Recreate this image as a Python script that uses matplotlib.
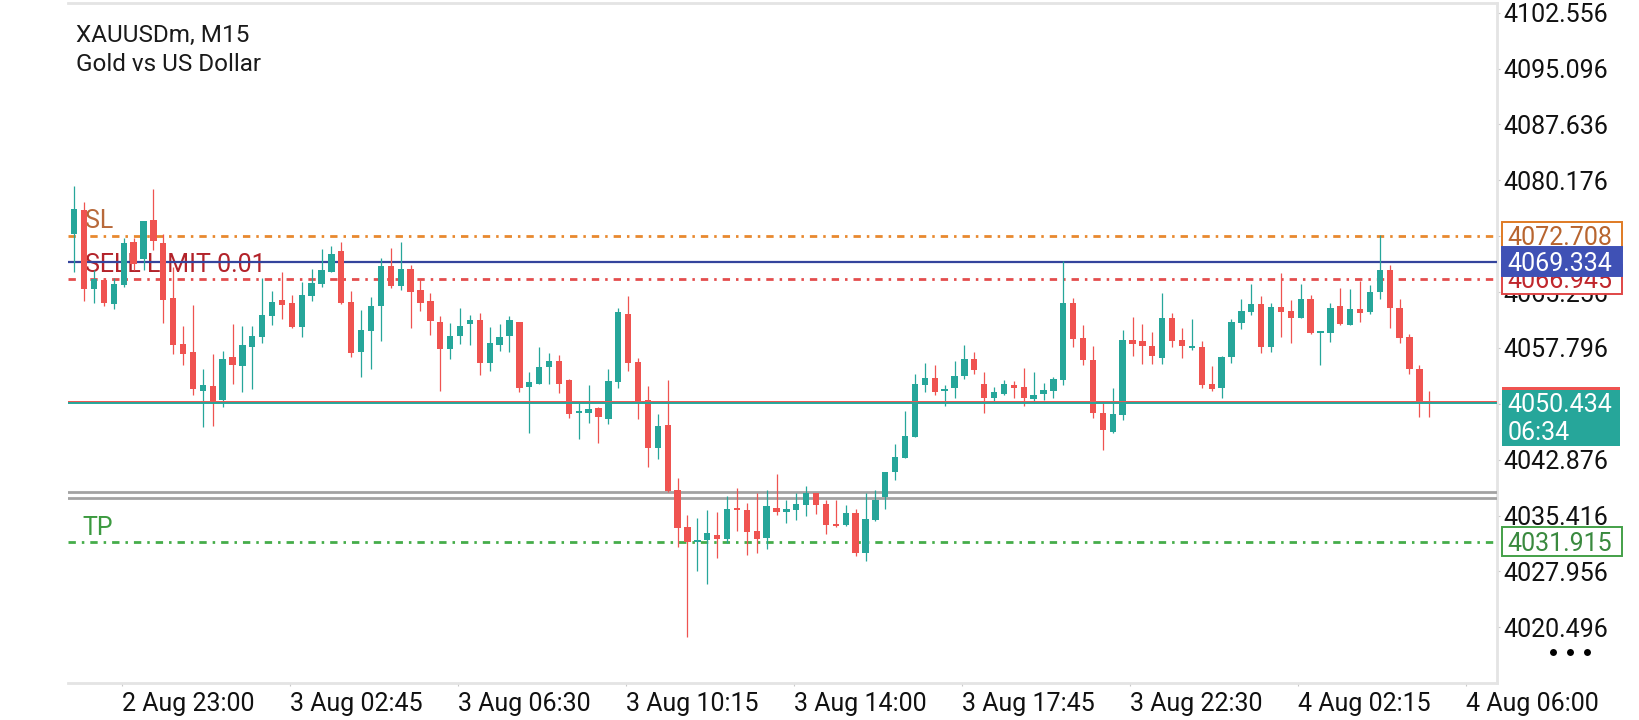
import matplotlib
matplotlib.use("Agg")
import matplotlib.pyplot as plt
from matplotlib.patches import Rectangle
from matplotlib.lines import Line2D
from matplotlib.transforms import blended_transform_factory

# ---------------- data ----------------
symbol_title = "XAUUSDm, M15"
symbol_desc = "Gold vs US Dollar"

opens = [4072.97, 4076.21, 4065.70, 4066.86, 4063.66, 4066.20, 4071.98, 4069.71, 4074.88, 4071.85,
         4064.50, 4058.36, 4057.25, 4052.05, 4052.71, 4050.84, 4056.58, 4055.42, 4057.96, 4059.29,
         4062.10, 4064.19, 4063.83, 4060.63, 4064.73, 4066.33, 4067.97, 4070.74, 4063.93, 4057.29,
         4060.10, 4063.43, 4068.73, 4066.10, 4068.33, 4065.53, 4064.06, 4061.30, 4057.69, 4059.39,
         4061.03, 4061.52, 4055.82, 4058.19, 4059.39, 4061.26, 4052.62, 4053.02, 4055.29, 4056.05,
         4053.51, 4049.10, 4049.15, 4049.81, 4048.34, 4053.29, 4062.32, 4055.91, 4050.84, 4044.48,
         4047.50, 4038.82, 4033.88, 4031.84, 4032.15, 4032.82, 4032.28, 4036.42, 4036.15, 4033.35,
         4032.45, 4036.38, 4035.93, 4036.15, 4036.82, 4038.38, 4036.96, 4034.33, 4034.15, 4035.71,
         4030.46, 4034.82, 4037.93, 4041.27, 4043.14, 4045.94, 4052.88, 4053.78, 4052.00, 4052.45,
         4054.09, 4056.32, 4052.98, 4051.15, 4051.64, 4052.85, 4052.62, 4051.01, 4051.69, 4052.08,
         4053.51, 4063.83, 4059.12, 4056.18, 4049.15, 4046.57, 4048.88, 4058.85, 4058.72, 4058.05,
         4056.49, 4061.79, 4058.85, 4057.79, 4057.96, 4052.98, 4052.48, 4056.63, 4061.17, 4062.59,
         4063.66, 4057.96, 4063.26, 4062.72, 4061.83, 4064.33, 4059.75, 4059.83, 4063.35, 4060.86,
         4062.99, 4062.63, 4065.30, 4068.20, 4063.08, 4059.21, 4054.94, 4050.71]
highs = [4079.46, 4077.24, 4068.20, 4067.17, 4067.17, 4072.43, 4072.43, 4074.80, 4079.01, 4072.97,
         4068.64, 4060.72, 4063.53, 4054.94, 4056.98, 4057.39, 4060.99, 4060.72, 4060.76, 4067.09,
         4065.44, 4067.97, 4064.86, 4066.60, 4068.29, 4071.00, 4071.40, 4071.90, 4065.40, 4062.86,
         4064.55, 4069.76, 4071.10, 4071.90, 4068.87, 4066.96, 4065.09, 4062.06, 4061.08, 4063.08,
         4062.15, 4062.42, 4060.55, 4060.99, 4062.06, 4061.30, 4054.54, 4057.92, 4057.16, 4056.85,
         4053.65, 4050.62, 4052.85, 4049.95, 4054.98, 4063.08, 4064.73, 4056.41, 4052.71, 4048.97,
         4053.51, 4040.39, 4035.49, 4035.05, 4036.15, 4035.89, 4038.02, 4039.09, 4037.13, 4038.38,
         4038.82, 4040.96, 4037.49, 4038.38, 4039.36, 4038.45, 4037.49, 4037.49, 4036.82, 4036.25,
         4038.38, 4038.82, 4041.19, 4044.97, 4049.41, 4054.31, 4055.82, 4055.52, 4052.85, 4056.09,
         4058.19, 4057.21, 4054.54, 4052.62, 4053.51, 4053.42, 4055.15, 4054.62, 4053.07, 4053.87,
         4069.44, 4064.42, 4060.86, 4058.05, 4050.40, 4052.49, 4060.19, 4061.88, 4060.99, 4059.96,
         4065.17, 4062.50, 4060.41, 4061.62, 4058.68, 4055.38, 4056.76, 4061.66, 4064.33, 4066.33,
         4064.73, 4063.75, 4067.84, 4064.19, 4066.33, 4064.86, 4060.10, 4063.75, 4065.76, 4065.63,
         4066.77, 4066.20, 4072.87, 4068.87, 4064.29, 4059.65, 4055.52, 4052.04]
lows = [4067.97, 4064.10, 4063.83, 4063.43, 4063.03, 4065.97, 4068.20, 4068.20, 4070.87, 4061.16,
        4056.94, 4055.49, 4051.55, 4047.28, 4047.41, 4049.95, 4052.98, 4051.91, 4052.35, 4058.41,
        4060.82, 4061.62, 4060.50, 4059.21, 4064.10, 4065.97, 4067.90, 4063.70, 4056.54, 4053.95,
        4055.02, 4058.76, 4065.76, 4065.53, 4060.50, 4062.76, 4059.52, 4052.08, 4056.36, 4058.32,
        4058.19, 4054.14, 4054.75, 4057.42, 4057.21, 4051.95, 4046.48, 4053.00, 4052.94, 4051.74,
        4048.48, 4045.68, 4047.81, 4045.14, 4047.68, 4052.48, 4054.75, 4048.34, 4041.94, 4042.96,
        4038.50, 4031.25, 4019.20, 4028.05, 4026.27, 4029.79, 4031.71, 4033.39, 4030.15, 4030.46,
        4030.91, 4035.45, 4034.46, 4034.82, 4035.40, 4035.62, 4032.95, 4033.93, 4034.02, 4030.06,
        4029.39, 4034.73, 4036.33, 4040.16, 4043.10, 4045.90, 4051.95, 4051.51, 4050.04, 4051.11,
        4053.69, 4054.31, 4049.15, 4050.71, 4051.51, 4051.15, 4050.08, 4050.40, 4050.84, 4051.15,
        4052.85, 4057.92, 4055.52, 4048.48, 4044.16, 4046.50, 4048.17, 4056.72, 4055.65, 4055.65,
        4055.65, 4057.92, 4056.49, 4057.52, 4052.48, 4052.08, 4051.07, 4055.82, 4060.33, 4062.19,
        4057.16, 4057.29, 4059.30, 4058.49, 4061.80, 4059.61, 4055.52, 4058.63, 4060.86, 4060.80,
        4061.30, 4062.28, 4064.33, 4060.41, 4058.41, 4054.27, 4048.53, 4048.53]
closes = [4076.34, 4065.70, 4066.96, 4063.83, 4066.33, 4071.80, 4068.99, 4074.74, 4072.03, 4064.23,
          4058.23, 4056.98, 4052.35, 4052.85, 4050.57, 4056.32, 4055.52, 4058.19, 4059.39, 4062.19,
          4063.93, 4063.57, 4060.63, 4064.86, 4066.50, 4068.20, 4070.34, 4063.83, 4057.16, 4060.19,
          4063.39, 4068.73, 4066.10, 4068.33, 4065.30, 4063.83, 4061.43, 4057.69, 4059.39, 4060.72,
          4061.52, 4055.82, 4058.49, 4059.30, 4061.52, 4052.48, 4053.25, 4055.21, 4056.05, 4053.02,
          4049.01, 4049.40, 4049.64, 4048.53, 4053.38, 4062.59, 4055.82, 4050.62, 4044.48, 4047.41,
          4038.69, 4033.79, 4031.92, 4032.16, 4033.08, 4032.28, 4036.29, 4036.15, 4033.25, 4032.28,
          4036.69, 4035.93, 4036.25, 4036.96, 4038.38, 4036.82, 4034.15, 4034.06, 4035.71, 4030.46,
          4034.91, 4037.49, 4041.19, 4043.23, 4046.03, 4052.98, 4053.78, 4051.95, 4052.31, 4054.05,
          4056.32, 4054.85, 4051.15, 4051.91, 4052.98, 4052.49, 4051.15, 4051.51, 4052.18, 4053.65,
          4063.83, 4058.99, 4056.22, 4049.15, 4046.84, 4049.01, 4058.85, 4058.36, 4058.05, 4056.72,
          4061.79, 4058.76, 4058.05, 4057.92, 4052.88, 4052.31, 4056.63, 4061.26, 4062.77, 4063.66,
          4057.96, 4063.26, 4062.63, 4061.83, 4064.33, 4059.75, 4059.92, 4063.13, 4060.99, 4062.99,
          4062.50, 4065.26, 4068.20, 4063.17, 4059.17, 4055.02, 4050.48, 4050.434]

x_tick_labels = ["2 Aug 23:00", "3 Aug 02:45", "3 Aug 06:30", "3 Aug 10:15", "3 Aug 14:00",
                 "3 Aug 17:45", "3 Aug 22:30", "4 Aug 02:15", "4 Aug 06:00"]
y_tick_values = [4102.556, 4095.096, 4087.636, 4080.176, 4072.716, 4065.256,
                 4057.796, 4050.336, 4042.876, 4035.416, 4027.956, 4020.496]
# tick labels that sit fully under a price box in the reference (not visible)
hidden_ticks = [4072.716, 4050.336]

sl_price = 4072.708
sell_limit_price = 4069.334
sell_limit_text = "SELL LIMIT 0.01"
sell_limit_mark = 4066.945
tp_price = 4031.915
bid_price = 4050.434
ask_price = 4050.62
countdown = "06:34"
gray_levels = [4038.52, 4037.72]

# ---------------- style / layout ----------------
plt.rcParams['font.family'] = ['Roboto', 'DejaVu Sans']
plt.rcParams['lines.scale_dashes'] = False

W, H = 1640, 720
TEAL = '#26a69a'
RED = '#ef5350'
FS = 18

fig = plt.figure(figsize=(W / 100, H / 100), dpi=100)
ax_l, ax_r, ax_t, ax_b = 68, 1497, 3, 683
ax = fig.add_axes([ax_l / W, 1 - ax_b / H, (ax_r - ax_l) / W, (ax_b - ax_t) / H])
ax.set_xlim(-0.637, 143.85)
ax.set_ylim(4013.06, 4103.85)
PX = (4103.85 - 4013.06) / (ax_b - ax_t)   # price per pixel

# candles
n = len(opens)
idx = list(range(n))
cols = [TEAL if c >= o else RED for o, c in zip(opens, closes)]
ax.vlines(idx, lows, highs, colors=cols, linewidth=0.9, zorder=4)
bottoms = [min(o, c) for o, c in zip(opens, closes)]
heights = [max(abs(c - o), 0.28) for o, c in zip(opens, closes)]
ax.bar(idx, heights, bottom=bottoms, width=0.64, color=cols, linewidth=0, zorder=5)

# horizontal levels
dashdot = (0, (5.3, 4.3, 1.8, 4.3))
ax.axhline(sl_price, color='#e8892f', lw=2.0, ls=dashdot, zorder=3)
ax.axhline(sell_limit_price, color='#34449c', lw=1.6, zorder=3)
ax.axhline(sell_limit_mark, color='#e34d4d', lw=2.0, ls=dashdot, zorder=3)
ax.axhline(tp_price, color='#45ad4a', lw=2.0, ls=dashdot, zorder=3)
for g in gray_levels:
    ax.axhline(g, color='#a3a3a3', lw=2.0, zorder=3)
ax.axhline(ask_price, color=RED, lw=1.4, zorder=6)
ax.axhline(bid_price, color=TEAL, lw=1.4, zorder=6)

# labels on chart
bt = blended_transform_factory(ax.transAxes, ax.transData)
lab_x = (85 - ax_l) / (ax_r - ax_l)
ax.annotate("SL", xy=(lab_x, sl_price), xycoords=bt, xytext=(0, 8), textcoords='offset pixels',
            va='baseline', ha='left', fontsize=FS, color='#b8693a', zorder=2)
ax.annotate(sell_limit_text, xy=(lab_x, sell_limit_price), xycoords=bt, xytext=(0, -10),
            textcoords='offset pixels', va='baseline', ha='left', fontsize=FS, color='#b3232a', zorder=2)
ax.annotate("TP", xy=((82 - ax_l) / (ax_r - ax_l), tp_price), xycoords=bt, xytext=(0, 7),
            textcoords='offset pixels', va='baseline', ha='left', fontsize=FS, color='#3c9a40', zorder=2)

# header
fig.text(76 / W, 1 - 42 / H, symbol_title, fontsize=17.5, color='#1a1a1a', va='baseline', ha='left')
fig.text(76 / W, 1 - 71 / H, symbol_desc, fontsize=17.5, color='#1a1a1a', va='baseline', ha='left')

# spines / axes
ax.spines['left'].set_visible(False)
for s in ['top', 'right', 'bottom']:
    ax.spines[s].set_color('#e4e4e4')
    ax.spines[s].set_linewidth(2.0)
ax.yaxis.tick_right()
ax.set_yticks(y_tick_values)
ax.set_yticklabels(["" if v in hidden_ticks else f"{v:.3f}" for v in y_tick_values])
ax.tick_params(axis='y', direction='out', length=2.2, width=0.8, color='#c8c8c8', pad=2.2,
               labelsize=FS, labelcolor='#111111')
x_start, x_step = 4.87, 16.98
ax.set_xticks([x_start + k * x_step for k in range(len(x_tick_labels))])
ax.set_xticklabels(x_tick_labels, ha='left')
ax.tick_params(axis='x', direction='out', length=2.2, width=0.8, color='#c8c8c8', pad=4.3,
               labelsize=FS, labelcolor='#111111')

# right price boxes
bx = (1502 - ax_l) / (ax_r - ax_l)
bw = 120 / (ax_r - ax_l)
tx = (1507.5 - ax_l) / (ax_r - ax_l)
bh = 29 * PX


def price_box(price, text, face, edge, tcolor, z):
    r = Rectangle((bx, price - bh / 2), bw, bh, transform=bt, facecolor=face, edgecolor=edge,
                  linewidth=1.4, clip_on=False, zorder=z)
    ax.add_patch(r)
    ax.annotate(text, xy=(tx, price), xycoords=bt, xytext=(0, -9), textcoords='offset pixels',
                va='baseline', ha='left', fontsize=FS, color=tcolor, zorder=z + 0.1,
                annotation_clip=False)


price_box(sl_price, f"{sl_price:.3f}", 'white', '#e07b24', '#b8652f', 10)
price_box(sell_limit_mark, f"{sell_limit_mark:.3f}", 'white', '#e04646', '#c0272d', 11)
price_box(sell_limit_price, f"{sell_limit_price:.3f}", '#3f51b5', '#3f51b5', 'white', 12)
price_box(tp_price, f"{tp_price:.3f}", 'white', '#43a047', '#3a8a3f', 10)

# current price box (two lines)
top_px = 387.5
bot_px = 445.5
bid_px = ax_t + (4103.85 - bid_price) / PX
ytop = bid_price + (bid_px - top_px) * PX
ybot = bid_price - (bot_px - bid_px) * PX
ax.add_patch(Rectangle((bx, ybot), 118 / (ax_r - ax_l), ytop - ybot, transform=bt, facecolor=TEAL,
                       edgecolor='none', clip_on=False, zorder=10))
ax.add_patch(Rectangle((bx, ytop - 2 * PX), 118 / (ax_r - ax_l), 2 * PX, transform=bt, facecolor=RED,
                       edgecolor='none', clip_on=False, zorder=10.5))
ax.annotate(f"{bid_price:.3f}", xy=(tx, bid_price), xycoords=bt, xytext=(0, -9),
            textcoords='offset pixels', va='baseline', ha='left', fontsize=FS, color='white',
            zorder=11, annotation_clip=False)
ax.annotate(countdown, xy=(tx, bid_price), xycoords=bt, xytext=(0, -37),
            textcoords='offset pixels', va='baseline', ha='left', fontsize=FS, color='white',
            zorder=11, annotation_clip=False)

# menu dots
for dx in (1553, 1570.5, 1587):
    fig.add_artist(Line2D([dx / W], [1 - 652 / H], marker='o', markersize=5, color='black',
                          markeredgewidth=0, transform=fig.transFigure))

fig.savefig("out.png", dpi=100, facecolor='white')
